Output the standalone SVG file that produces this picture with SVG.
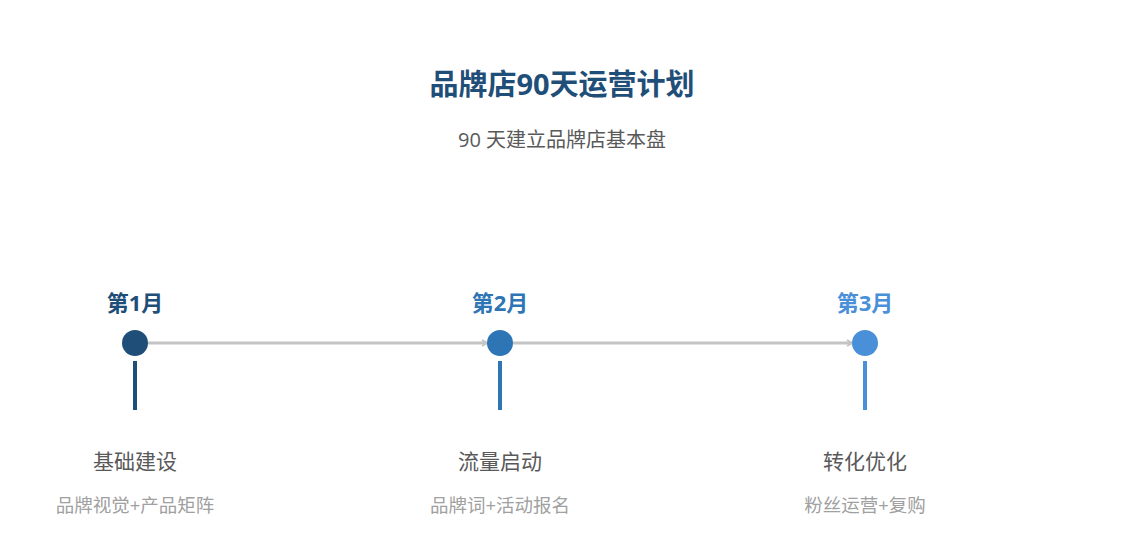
<svg xmlns="http://www.w3.org/2000/svg" width="1125" height="555" viewBox="0 0 1125 555">
<style>
text{font-family:"Open Sans","Noto Sans CJK SC",sans-serif;text-anchor:middle}
.title{font-size:29px;font-weight:bold;fill:#1F4E79}
.sub{font-size:20px;fill:#595959}
.month{font-size:22px;font-weight:bold}
.step{font-size:21px;fill:#595959}
.desc{font-size:18.5px;fill:#A0A0A0}
.conn{stroke:#C4C4C4;stroke-width:3;fill:none}
</style>
<defs>
<marker id="arr" markerWidth="8" markerHeight="8" refX="6" refY="4" orient="auto" markerUnits="userSpaceOnUse">
<path d="M1,1 L6,4 L1,7" fill="none" stroke="#C4C4C4" stroke-width="2"/>
</marker>
</defs>
<rect width="1125" height="555" fill="#FFFFFF"/>
<text class="title" x="562" y="95">品牌店90天运营计划</text>
<text class="sub" x="562" y="147">90 天建立品牌店基本盘</text>
<g id="connectors">
<line class="conn" x1="148" y1="343" x2="487" y2="343" marker-end="url(#arr)"/>
<line class="conn" x1="513" y1="343" x2="852" y2="343" marker-end="url(#arr)"/>
</g>
<g id="node1">
<text class="month" x="135" y="311" fill="#1F4E79">第1月</text>
<circle cx="135" cy="343" r="13" fill="#1F4E79"/>
<line x1="135" y1="361" x2="135" y2="410" stroke="#1F4E79" stroke-width="4"/>
<text class="step" x="135" y="469">基础建设</text>
<text class="desc" x="135" y="512">品牌视觉+产品矩阵</text>
</g>
<g id="node2">
<text class="month" x="500" y="311" fill="#2E75B6">第2月</text>
<circle cx="500" cy="343" r="13" fill="#2E75B6"/>
<line x1="500" y1="361" x2="500" y2="410" stroke="#2E75B6" stroke-width="4"/>
<text class="step" x="500" y="469">流量启动</text>
<text class="desc" x="500" y="512">品牌词+活动报名</text>
</g>
<g id="node3">
<text class="month" x="865" y="311" fill="#4A90D9">第3月</text>
<circle cx="865" cy="343" r="13" fill="#4A90D9"/>
<line x1="865" y1="361" x2="865" y2="410" stroke="#4A90D9" stroke-width="4"/>
<text class="step" x="865" y="469">转化优化</text>
<text class="desc" x="865" y="512">粉丝运营+复购</text>
</g>
</svg>
